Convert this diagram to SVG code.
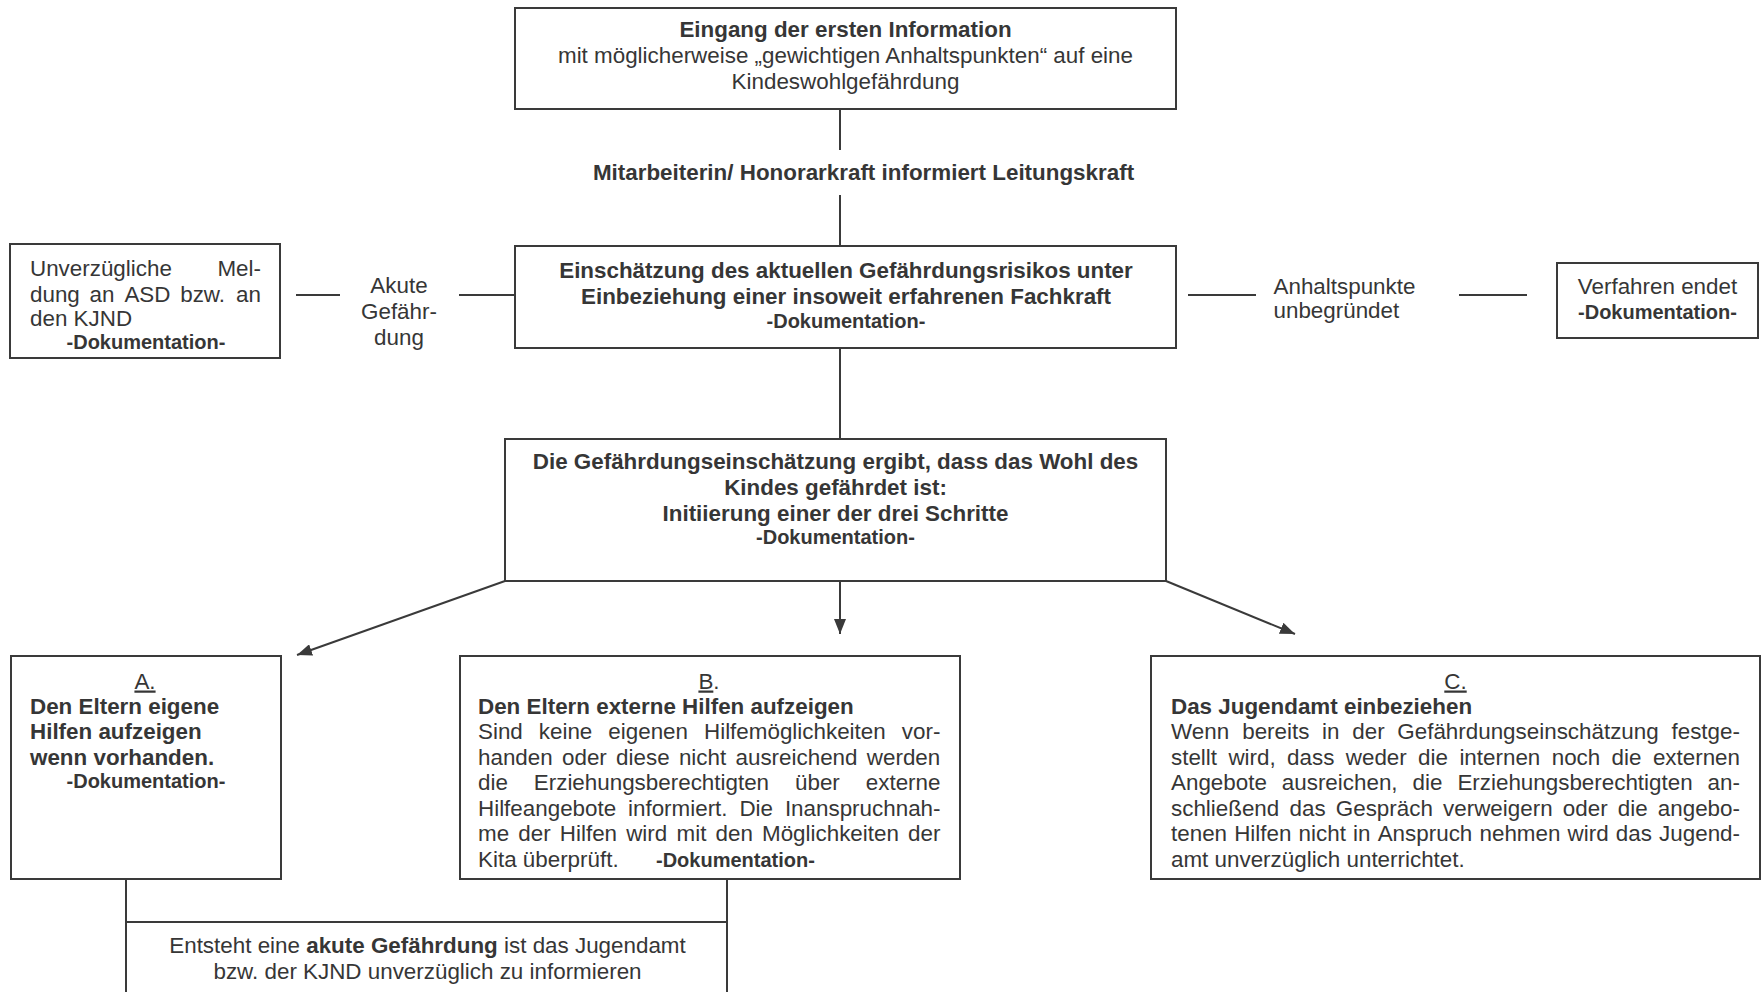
<svg xmlns="http://www.w3.org/2000/svg" width="1764" height="992" viewBox="0 0 1764 992">
<style>
.t{font-family:"Liberation Sans",Arial,sans-serif;font-size:22.4px;fill:#363636;}
.b{font-weight:bold;}
.d{font-family:"Liberation Sans",Arial,sans-serif;font-weight:bold;font-size:20px;fill:#363636;}
.m{text-anchor:middle;}
.box{fill:#fff;stroke:#3a3a3a;stroke-width:2;}
.ln{stroke:#3a3a3a;stroke-width:2;fill:none;}
</style>
<defs>
<marker id="ah" markerUnits="userSpaceOnUse" markerWidth="16" markerHeight="12" refX="15" refY="6" orient="auto">
<path d="M0,0 L15,6 L0,12 z" fill="#3a3a3a"/>
</marker>
</defs>
<rect width="1764" height="992" fill="#fff"/>

<g id="connectors">
<line class="ln" x1="840" y1="109" x2="840" y2="150"/>
<line class="ln" x1="840" y1="195" x2="840" y2="247"/>
<line class="ln" x1="840" y1="348" x2="840" y2="439"/>
<line class="ln" x1="296" y1="295" x2="340" y2="295"/>
<line class="ln" x1="459" y1="295" x2="515" y2="295"/>
<line class="ln" x1="1188" y1="295" x2="1256" y2="295"/>
<line class="ln" x1="1459" y1="295" x2="1527" y2="295"/>
<line class="ln" x1="505" y1="581" x2="297" y2="655" marker-end="url(#ah)"/>
<line class="ln" x1="840" y1="581" x2="840" y2="634" marker-end="url(#ah)"/>
<line class="ln" x1="1166" y1="581" x2="1295" y2="634" marker-end="url(#ah)"/>
<line class="ln" x1="126" y1="879" x2="126" y2="922"/>
<line class="ln" x1="727" y1="879" x2="727" y2="922"/>
</g>

<g id="n-eingang">
<rect class="box" x="515" y="8" width="661" height="101"/>
<text class="t b m" x="845.5" y="37">Eingang der ersten Information</text>
<text class="t m" x="845.5" y="63">mit möglicherweise „gewichtigen Anhaltspunkten“ auf eine</text>
<text class="t m" x="845.5" y="89">Kindeswohlgefährdung</text>
</g>

<g id="l-mitarbeiterin">
<text class="t b m" x="863.5" y="180">Mitarbeiterin/ Honorarkraft informiert Leitungskraft</text>
</g>

<g id="n-einschaetzung">
<rect class="box" x="515" y="246" width="661" height="102"/>
<text class="t b m" x="846" y="278">Einschätzung des aktuellen Gefährdungsrisikos unter</text>
<text class="t b m" x="846" y="304">Einbeziehung einer insoweit erfahrenen Fachkraft</text>
<text class="d m" x="846" y="328">-Dokumentation-</text>
</g>

<g id="n-meldung">
<rect class="box" x="10" y="244" width="270" height="114"/>
<text class="t" y="276"><tspan x="30">Unverzügliche</tspan><tspan x="261" text-anchor="end">Mel-</tspan></text>
<text class="t" y="302"><tspan x="30">dung</tspan><tspan x="89.6">an</tspan><tspan x="124.4">ASD</tspan><tspan x="180.2">bzw.</tspan><tspan x="236.1">an</tspan></text>
<text class="t" x="30" y="326">den KJND</text>
<text class="d m" x="146" y="349">-Dokumentation-</text>
</g>

<g id="l-akute">
<text class="t m" x="399" y="292.5">Akute</text>
<text class="t m" x="399" y="318.5">Gefähr-</text>
<text class="t m" x="399" y="344.5">dung</text>
</g>

<g id="l-anhaltspunkte">
<text class="t" x="1273.5" y="294">Anhaltspunkte</text>
<text class="t" x="1273.5" y="318">unbegründet</text>
</g>

<g id="n-verfahren">
<rect class="box" x="1557" y="263" width="201" height="75"/>
<text class="t m" x="1657.5" y="294">Verfahren endet</text>
<text class="d m" x="1657.5" y="319">-Dokumentation-</text>
</g>

<g id="n-gefaehrdung">
<rect class="box" x="505" y="439" width="661" height="142"/>
<text class="t b m" x="835.5" y="469">Die Gefährdungseinschätzung ergibt, dass das Wohl des</text>
<text class="t b m" x="835.5" y="495">Kindes gefährdet ist:</text>
<text class="t b m" x="835.5" y="521">Initiierung einer der drei Schritte</text>
<text class="d m" x="835.5" y="544">-Dokumentation-</text>
</g>

<g id="n-a">
<rect class="box" x="11" y="656" width="270" height="223"/>
<text class="t m" x="145" y="688.5" text-decoration="underline">A.</text>
<text class="t b" x="30" y="713.5">Den Eltern eigene</text>
<text class="t b" x="30" y="739">Hilfen aufzeigen</text>
<text class="t b" x="30" y="764.5">wenn vorhanden.</text>
<text class="d m" x="146" y="788">-Dokumentation-</text>
</g>

<g id="n-b">
<rect class="box" x="460" y="656" width="500" height="223"/>
<text class="t m" x="709" y="688.5"><tspan text-decoration="underline">B</tspan>.</text>
<text class="t b" x="478" y="713.5">Den Eltern externe Hilfen aufzeigen</text>
<text class="t" y="739"><tspan x="478">Sind</tspan><tspan x="538.8">keine</tspan><tspan x="608.3">eigenen</tspan><tspan x="704">Hilfemöglichkeiten</tspan><tspan x="901.8">vor-</tspan></text>
<text class="t" y="764.5"><tspan x="478">handen</tspan><tspan x="562">oder</tspan><tspan x="616.1">diese</tspan><tspan x="678.9">nicht</tspan><tspan x="735.5">ausreichend</tspan><tspan x="866.8">werden</tspan></text>
<text class="t" y="790"><tspan x="478">die</tspan><tspan x="533.8">Erziehungsberechtigten</tspan><tspan x="795">über</tspan><tspan x="865.8">externe</tspan></text>
<text class="t" y="815.5"><tspan x="478">Hilfeangebote</tspan><tspan x="628">informiert.</tspan><tspan x="739.4">Die</tspan><tspan x="784.9">Inanspruchnah-</tspan></text>
<text class="t" y="841"><tspan x="478">me</tspan><tspan x="518.3">der</tspan><tspan x="559.8">Hilfen</tspan><tspan x="626.2">wird</tspan><tspan x="676.5">mit</tspan><tspan x="715.5">den</tspan><tspan x="762">Möglichkeiten</tspan><tspan x="908.1">der</tspan></text>
<text class="t" x="478" y="866.5">Kita überprüft.</text>
<text class="d" x="656" y="866.5">-Dokumentation-</text>
</g>

<g id="n-c">
<rect class="box" x="1151" y="656" width="609" height="223"/>
<text class="t m" x="1455.5" y="688.5" text-decoration="underline">C.</text>
<text class="t b" x="1171" y="713.5">Das Jugendamt einbeziehen</text>
<text class="t" y="739"><tspan x="1171">Wenn</tspan><tspan x="1242.2">bereits</tspan><tspan x="1322.1">in</tspan><tspan x="1352.3">der</tspan><tspan x="1397.3">Gefährdungseinschätzung</tspan><tspan x="1671.5">festge-</tspan></text>
<text class="t" y="764.5"><tspan x="1171">stellt</tspan><tspan x="1228.4">wird,</tspan><tspan x="1287.1">dass</tspan><tspan x="1345.8">weder</tspan><tspan x="1418.1">die</tspan><tspan x="1459.4">internen</tspan><tspan x="1551.7">noch</tspan><tspan x="1611.6">die</tspan><tspan x="1652.9">externen</tspan></text>
<text class="t" y="790"><tspan x="1171">Angebote</tspan><tspan x="1281.8">ausreichen,</tspan><tspan x="1412.6">die</tspan><tspan x="1457.4">Erziehungsberechtigten</tspan><tspan x="1707.6">an-</tspan></text>
<text class="t" y="815.5"><tspan x="1171">schließend</tspan><tspan x="1289.5">das</tspan><tspan x="1335.8">Gespräch</tspan><tspan x="1443.1">verweigern</tspan><tspan x="1562.8">oder</tspan><tspan x="1617.8">die</tspan><tspan x="1657.8">angebo-</tspan></text>
<text class="t" y="841"><tspan x="1171">tenen</tspan><tspan x="1234.2">Hilfen</tspan><tspan x="1298.6">nicht</tspan><tspan x="1353.1">in</tspan><tspan x="1377.7">Anspruch</tspan><tspan x="1479.5">nehmen</tspan><tspan x="1567.6">wird</tspan><tspan x="1615.8">das</tspan><tspan x="1659.1">Jugend-</tspan></text>
<text class="t" x="1171" y="866.5">amt unverzüglich unterrichtet.</text>
</g>

<g id="n-akut">
<rect class="box" x="126" y="922" width="601" height="110"/>
<text class="t m" x="427.5" y="953">Entsteht eine <tspan class="b">akute Gefährdung</tspan> ist das Jugendamt</text>
<text class="t m" x="427.5" y="979">bzw. der KJND unverzüglich zu informieren</text>
</g>
</svg>
